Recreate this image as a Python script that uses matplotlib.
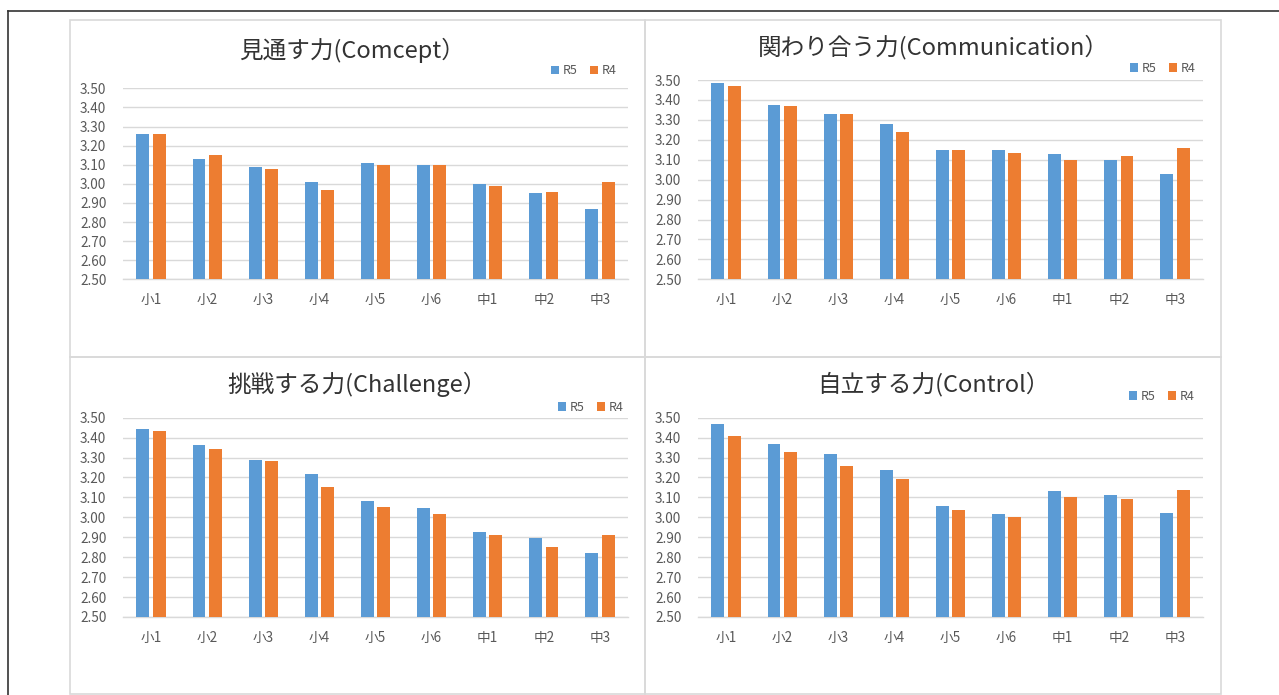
import matplotlib
matplotlib.use("Agg")
import matplotlib.pyplot as plt
from matplotlib.patches import Rectangle
from matplotlib.lines import Line2D
import numpy as np

plt.rcParams['font.family'] = ['Noto Sans CJK JP', 'DejaVu Sans']

categories = ["小1", "小2", "小3", "小4", "小5", "小6", "中1", "中2", "中3"]
series_names = ["R5", "R4"]

titles = ["見通す力(Comcept）", "関わり合う力(Communication）",
          "挑戦する力(Challenge）", "自立する力(Control）"]

concept_r5 = [3.26, 3.13, 3.09, 3.01, 3.11, 3.10, 3.00, 2.95, 2.87]
concept_r4 = [3.26, 3.15, 3.08, 2.97, 3.10, 3.10, 2.99, 2.955, 3.01]

communication_r5 = [3.485, 3.375, 3.33, 3.28, 3.15, 3.147, 3.13, 3.10, 3.03]
communication_r4 = [3.47, 3.37, 3.328, 3.24, 3.15, 3.135, 3.10, 3.12, 3.16]

challenge_r5 = [3.445, 3.365, 3.29, 3.22, 3.08, 3.045, 2.925, 2.896, 2.82]
challenge_r4 = [3.435, 3.345, 3.285, 3.15, 3.05, 3.015, 2.913, 2.853, 2.91]

control_r5 = [3.467, 3.368, 3.316, 3.236, 3.055, 3.018, 3.13, 3.112, 3.022]
control_r4 = [3.406, 3.328, 3.26, 3.19, 3.037, 3.00, 3.104, 3.094, 3.139]

y_ticks = [2.50, 2.60, 2.70, 2.80, 2.90, 3.00, 3.10, 3.20, 3.30, 3.40, 3.50]

panels = [
    (concept_r5, concept_r4),
    (communication_r5, communication_r4),
    (challenge_r5, challenge_r4),
    (control_r5, control_r4),
]

W, H = 1279, 695
fig = plt.figure(figsize=(W / 100, H / 100), dpi=100)
fig.patch.set_facecolor("white")

BLUE = "#5B9BD5"
ORANGE = "#ED7D31"
GRID = "#D9D9D9"
TXT = "#595959"

def fx(px):
    return px / W

def fy(py):
    return 1 - py / H

# outer frame lines
fig.add_artist(Line2D([fx(8), fx(1279)], [fy(10.5), fy(10.5)], color="#333333", lw=1.2))
fig.add_artist(Line2D([fx(8), fx(8)], [fy(10.5), fy(695)], color="#333333", lw=1.2))

# panel borders
panel_boxes = [(70, 20, 645, 357), (645, 20, 1221, 357),
               (70, 357, 645, 694), (645, 357, 1221, 694)]
for (x0, y0, x1, y1) in panel_boxes:
    fig.add_artist(Rectangle((fx(x0), fy(y1)), fx(x1) - fx(x0), fy(y0) - fy(y1),
                             fill=False, edgecolor=GRID, lw=1.2))

# axes areas (left, right, top(3.50), bottom(2.50)) in pixels
ax_boxes = [(123, 628, 88.3, 279.3), (698, 1203, 80, 279.3),
            (123, 628, 417.7, 617), (698, 1203, 417.7, 617)]
title_pos = [(352, 50), (933, 47), (357, 384.5), (933, 384)]
legend_pos = [(551, 71), (1130, 68.3), (558, 407.3), (1129, 396.3)]

x = np.arange(len(categories))
bw = 0.23
off = 0.145

for i, ((r5, r4), (l, r, t, b)) in enumerate(zip(panels, ax_boxes)):
    ax = fig.add_axes([fx(l), fy(b), fx(r) - fx(l), fy(t) - fy(b)])
    ax.set_facecolor("none")
    b1 = ax.bar(x - off, np.array(r5) - 2.5, bw, bottom=2.5, color=BLUE, zorder=3, label=series_names[0])
    b2 = ax.bar(x + off, np.array(r4) - 2.5, bw, bottom=2.5, color=ORANGE, zorder=3, label=series_names[1])
    ax.set_xlim(-0.5, len(categories) - 0.5)
    ax.set_ylim(2.5, 3.5)
    ax.set_yticks(y_ticks)
    ax.set_yticklabels([f"{v:.2f}" for v in y_ticks])
    ax.set_xticks(x)
    ax.set_xticklabels(categories)
    ax.grid(axis="y", color=GRID, lw=1.0, zorder=0)
    for s in ["top", "right", "left"]:
        ax.spines[s].set_visible(False)
    ax.spines["bottom"].set_color(GRID)
    ax.spines["bottom"].set_linewidth(1.0)
    ax.tick_params(axis="both", length=0, labelsize=9.8, colors=TXT)
    ax.tick_params(axis="y", pad=12)
    ax.tick_params(axis="x", pad=10)

    tx, ty = title_pos[i]
    fig.text(fx(tx), fy(ty), titles[i], ha="center", va="center", fontsize=17, color="#333333")

    lx, ly = legend_pos[i]
    ax.legend(handles=[b1, b2], loc="center left", bbox_to_anchor=(fx(lx), fy(ly)),
              bbox_transform=fig.transFigure, ncol=2, frameon=False,
              handlelength=0.65, handleheight=0.65, handletextpad=0.3,
              columnspacing=1.0, borderpad=0, borderaxespad=0,
              prop={"size": 9}, labelcolor=TXT)

fig.savefig("out.png", dpi=100, facecolor="white")
